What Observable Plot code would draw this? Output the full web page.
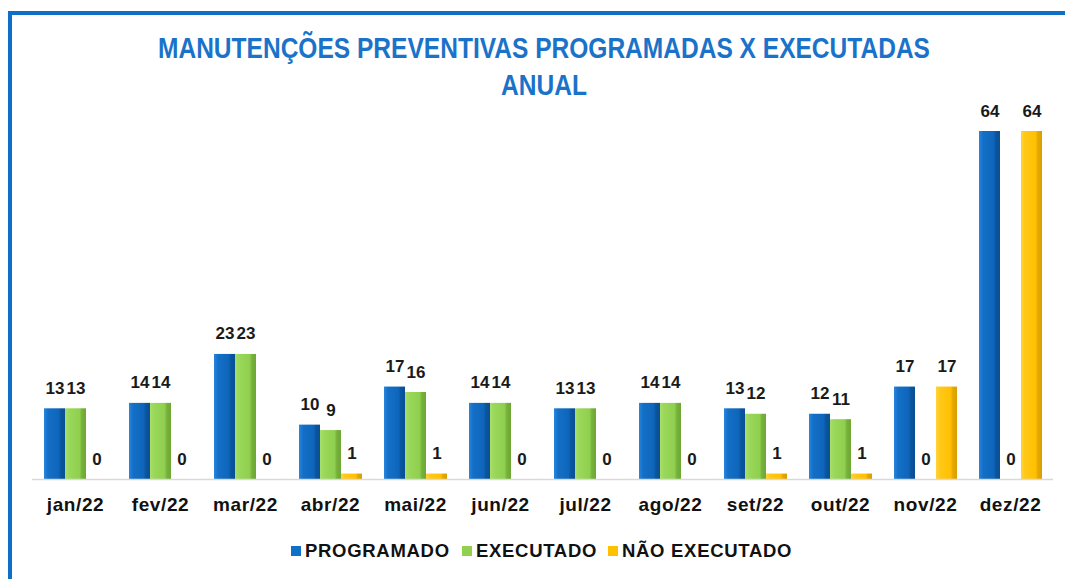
<!DOCTYPE html>
<html><head><meta charset="utf-8">
<script src="https://cdn.jsdelivr.net/npm/d3@7"></script>
<script src="https://cdn.jsdelivr.net/npm/@observablehq/plot@0.6"></script>
<style>
body{margin:0;background:#fff;font-family:"Liberation Sans",Arial,sans-serif;}
#wrap{position:relative;width:1065px;height:579px;overflow:hidden;background:#fff}
#frame{position:absolute;left:8px;top:11px;width:1100px;height:600px;border-left:4px solid #0f6fc6;border-top:4px solid #0f6fc6;}
#title{position:absolute;left:0;width:1088px;top:30px;text-align:center;color:#1a73c9;font-family:"Liberation Sans",Arial,sans-serif;font-weight:bold;font-size:29px;line-height:37px;transform-origin:544px 0}
#title span{display:inline-block;white-space:nowrap}
#chart{position:absolute;left:0;top:100px}
.leg{position:absolute;top:541px;font-weight:bold;font-size:18.5px;letter-spacing:0.7px;line-height:20px;color:#111;white-space:nowrap}
.sw{position:absolute;top:546px;width:10px;height:10px}
</style></head>
<body>
<div id="wrap">
  <div id="frame"></div>
  <div id="title"><span id="t1">MANUTENÇÕES PREVENTIVAS PROGRAMADAS X EXECUTADAS</span><br><span>ANUAL</span></div>
  <div id="chart"></div>
  <div id="legend"></div>
</div>
<script>
const months = ["jan/22","fev/22","mar/22","abr/22","mai/22","jun/22","jul/22","ago/22","set/22","out/22","nov/22","dez/22"];
const seriesNames = ["PROGRAMADO","EXECUTADO","NÃO EXECUTADO"];
const programado   = [13,14,23,10,17,14,13,14,13,12,17,64];
const executado    = [13,14,23, 9,16,14,13,14,12,11, 0, 0];
const naoExecutado = [ 0, 0, 0, 1, 1, 0, 0, 0, 1, 1,17,64];
const swatchColors = ["#1070c8","#92d050","#ffc000"];

const seriesValues = [programado, executado, naoExecutado];
const data = months.flatMap((m, i) => seriesNames.map((s, j) => ({month: m, series: s, value: seriesValues[j][i]})));

const chart = Plot.plot({
  width: 1065, height: 420,
  marginTop: 31, marginBottom: 41, marginLeft: 30, marginRight: 9,
  style: {fontFamily: "Liberation Sans, Arial, sans-serif", fontSize: "19px", fontWeight: "bold", color: "#111", background: "transparent"},
  fx: {domain: months, paddingInner: 0.247, paddingOuter: 0.15, label: null, tickSize: 0, tickPadding: 18},
  x: {domain: seriesNames, axis: null, padding: 0},
  y: {domain: [0, 64], axis: null},
  color: {domain: seriesNames, range: ["url(#gB)", "url(#gG)", "url(#gY)"]},
  marks: [
    Plot.barY(data, {fx: "month", x: "series", y: "value", fill: "series"}),
    Plot.ruleY([0], {stroke: "#d9d9d9", strokeWidth: 1.5, insetLeft: -11, insetRight: -11}),
    Plot.text(data, {fx: "month", x: "series", y: "value", text: d => String(d.value), lineAnchor: "bottom", dy: -15, fontSize: 17, fontWeight: "bold", fill: "#1a1a1a"})
  ]
});

// wider letter spacing for the month labels only
d3.select(chart).selectAll("g[aria-label^='fx-axis'] text").style("letter-spacing", "0.6px");

const defs = d3.select(chart).insert("defs", ":first-child");
function grad(id, stops) {
  const g = defs.append("linearGradient").attr("id", id).attr("x1", "0").attr("x2", "1").attr("y1", "0").attr("y2", "0");
  stops.forEach(([o, c]) => g.append("stop").attr("offset", o).attr("stop-color", c));
}
grad("gB", [[0,"#2a86dc"],[0.12,"#1a78d2"],[0.2,"#136fc6"],[0.7,"#0e66bb"],[0.8,"#0a559f"],[1,"#0a4f94"]]);
grad("gG", [[0,"#a8df6a"],[0.2,"#9ad75a"],[0.7,"#8fcf4f"],[0.8,"#77b23c"],[1,"#6ea634"]]);
grad("gY", [[0,"#ffd33a"],[0.2,"#ffc817"],[0.7,"#ffc000"],[0.8,"#e6a800"],[1,"#d99e00"]]);

document.getElementById("chart").appendChild(chart);

// fit title width to the reference (~772px for first line)
const t1 = document.getElementById("t1");
const ratio = 772 / t1.getBoundingClientRect().width;
document.getElementById("title").style.transform = `scaleX(${ratio})`;

const legend = document.getElementById("legend");
const legX = [291, 462, 608];
seriesNames.forEach((s, i) => {
  const sw = document.createElement("div");
  sw.className = "sw"; sw.style.left = legX[i] + "px"; sw.style.background = swatchColors[i];
  legend.appendChild(sw);
  const t = document.createElement("div");
  t.className = "leg"; t.style.left = (legX[i] + 14) + "px"; t.textContent = s;
  legend.appendChild(t);
});
</script>
</body></html>
